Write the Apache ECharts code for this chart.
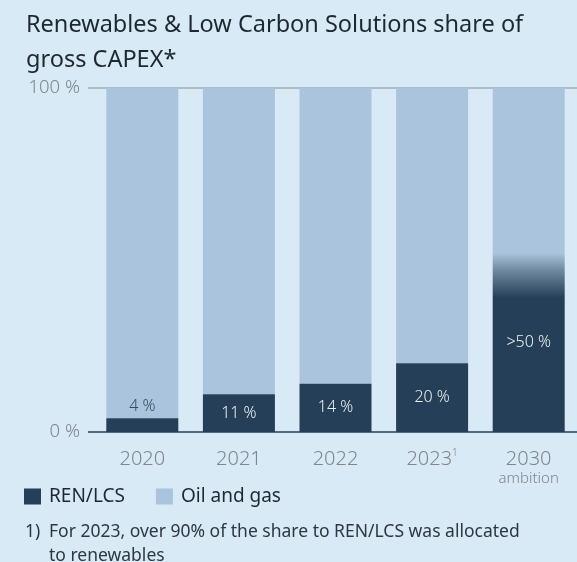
<!DOCTYPE html>
<html>
<head>
<meta charset="utf-8">
<script src="https://cdn.jsdelivr.net/npm/echarts@6/dist/echarts.min.js"></script>
<style>
  html, body { margin: 0; padding: 0; background: #d7eaf5; }
  #chart { width: 577px; height: 562px; }
</style>
</head>
<body>
<div id="chart"></div>
<script>
// Share of gross CAPEX by year (percent)
const years = ['2020', '2021', '2022', '2023', '2030'];
const yearLabels = ['2020', '2021', '2022', '2023{sup|1}', '2030\n{sub|ambition}'];
const renLcs = [4, 11, 14, 20, 52];
const renLcsLabels = ['4 %', '11 %', '14 %', '20 %', '>50 %'];
const oilGas = [96, 89, 86, 80, 48];
const yTicks = [0, 100];

const DARK = '#243f57';
const LIGHT = '#a9c4dc';
const GREY = '#80868b';
const INK = '#1e2830';
const FONT = '"Noto Sans", "Open Sans", sans-serif';

const chart = echarts.init(document.getElementById('chart'), null, { renderer: 'canvas' });

// The 2030 ambition bar fades from the oil-and-gas colour into REN/LCS
const ambitionFill = new echarts.graphic.LinearGradient(0, 0, 0, 1, [
  { offset: 0, color: LIGHT },
  { offset: 0.1, color: '#6d879e' },
  { offset: 0.25, color: DARK },
  { offset: 1, color: DARK }
]);

const renData = renLcs.map((v, i) => {
  const item = {
    value: v,
    label: {
      formatter: renLcsLabels[i],
      position: 'inside',
      color: '#e9f0f5'
    }
  };
  if (i === 0) {
    item.label.position = 'top';
    item.label.distance = 4;
    item.label.color = '#3b4b59';
  }
  if (i === years.length - 1) {
    item.itemStyle = { color: ambitionFill };
  }
  return item;
});

const noteStyle = {
  fontFamily: FONT, fontSize: 17.5, fontWeight: 'normal',
  color: '#2e3840', lineHeight: 24
};

chart.setOption({
  backgroundColor: '#d7eaf5',
  animation: false,
  textStyle: { fontFamily: FONT },
  title: [
    {
      text: 'Renewables & Low Carbon Solutions share of\ngross CAPEX*',
      left: 21, top: 3,
      textStyle: {
        fontFamily: FONT, fontSize: 23.5, fontWeight: 'normal',
        color: INK, lineHeight: 35
      }
    },
    // footnote marker and its hanging-indented text
    { text: '1)', left: 20, top: 515, textStyle: noteStyle },
    {
      text: 'For 2023, over 90% of the share to REN/LCS was allocated\nto renewables',
      left: 44, top: 515,
      textStyle: noteStyle
    }
  ],
  legend: {
    left: 24, top: 487, padding: 0,
    icon: 'rect',
    itemWidth: 17, itemHeight: 16,
    itemGap: 31,
    textStyle: { fontFamily: FONT, fontSize: 19, color: INK, padding: [0, 0, 0, 3] },
    data: ['REN/LCS', 'Oil and gas']
  },
  grid: [
    // frame grid: carries the percentage axis and its two reference lines
    { left: 88, right: 0, top: 88, bottom: 130 },
    // bar grid
    { left: 94, right: -13, top: 88, bottom: 130 }
  ],
  xAxis: [
    { type: 'category', gridIndex: 0, data: years, show: false },
    {
      type: 'category', gridIndex: 1, data: years,
      axisLine: { show: false }, axisTick: { show: false },
      axisLabel: {
        interval: 0,
        margin: 16,
        color: GREY, fontFamily: FONT, fontSize: 20, fontWeight: 300,
        lineHeight: 22,
        formatter: (v, i) => yearLabels[i],
        rich: {
          sup: { fontSize: 10, color: GREY, verticalAlign: 'top', padding: [0, 0, 8, 0], fontFamily: FONT },
          sub: { fontSize: 15, color: GREY, fontFamily: FONT, fontWeight: 300, lineHeight: 18 }
        }
      }
    }
  ],
  yAxis: [
    {
      type: 'value', gridIndex: 0, min: yTicks[0], max: yTicks[1], interval: yTicks[1] - yTicks[0],
      axisLine: { show: false }, axisTick: { show: false },
      axisLabel: {
        margin: 8, color: GREY, fontFamily: FONT, fontSize: 18.5, fontWeight: 300,
        padding: [7, 0, 0, 0],
        formatter: '{value} %'
      },
      splitLine: { show: true, lineStyle: { color: [DARK, '#a3adb4'], width: 1.5 } }
    },
    { type: 'value', gridIndex: 1, min: yTicks[0], max: yTicks[1], show: false }
  ],
  series: [
    {
      name: 'REN/LCS', type: 'bar', stack: 'capex',
      xAxisIndex: 1, yAxisIndex: 1,
      barWidth: 72,
      itemStyle: { color: DARK },
      label: { show: true, fontFamily: FONT, fontSize: 16, fontWeight: 300 },
      data: renData,
      z: 3
    },
    {
      name: 'Oil and gas', type: 'bar', stack: 'capex',
      xAxisIndex: 1, yAxisIndex: 1,
      barWidth: 72,
      itemStyle: { color: LIGHT },
      data: oilGas,
      z: 2
    }
  ]
});
</script>
</body>
</html>
